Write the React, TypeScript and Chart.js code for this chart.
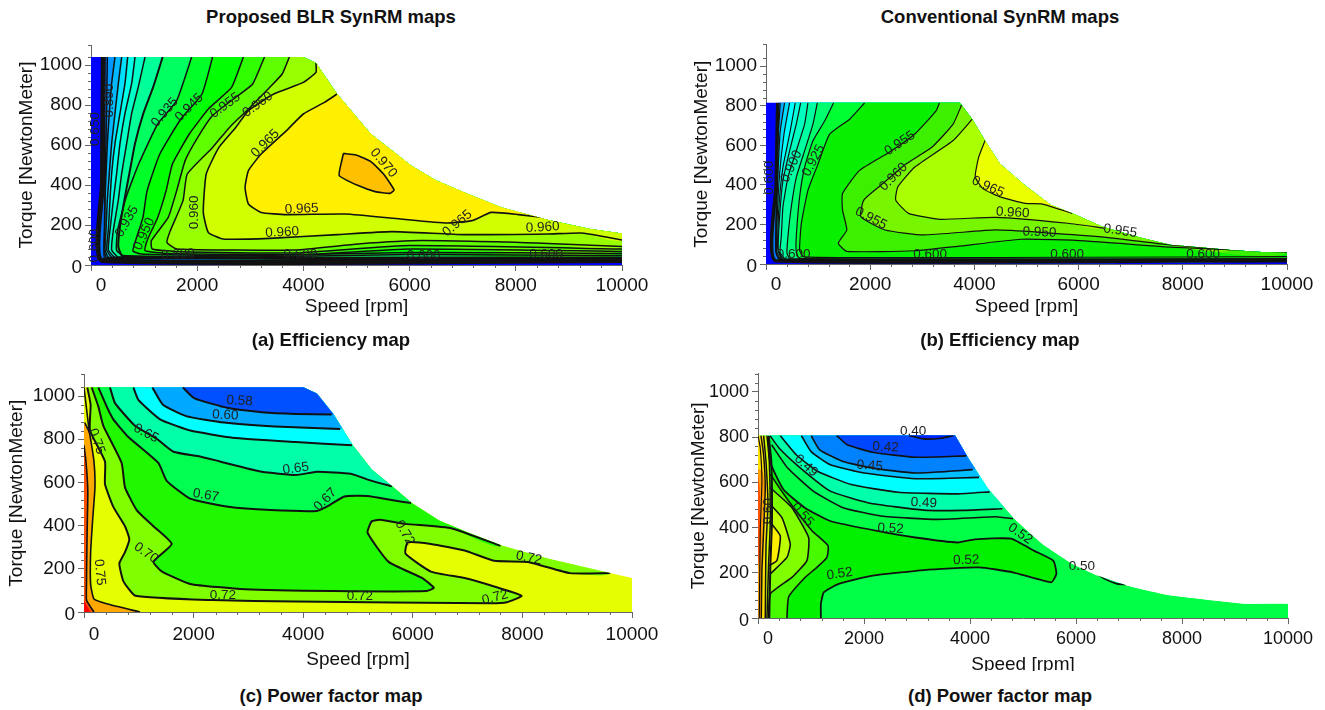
import React, { useEffect, useRef } from "react";
import Chart from "chart.js/auto";

type Pt = [number, number];
type Lab = [string, number, number, number];

const HEADINGS: [string, number, number][] = [
  ["Proposed BLR SynRM maps", 331, 17],
  ["Conventional SynRM maps", 1000, 17],
  ["(a) Efficiency map", 331, 340],
  ["(b) Efficiency map", 1000, 340],
  ["(c) Power factor map", 331, 696],
  ["(d) Power factor map", 1000, 696],
];
const X_TITLE = "Speed [rpm]";
const Y_TITLE = "Torque [NewtonMeter]";

/* ---------- (a) efficiency, proposed ---------- */
const A_ENV: Pt[] = [[0,0],[0,1040],[4000,1040],[4237,1010],[4635,855],[4953,755],[5271,655],[5668,572],[6026,497],[6503,422],[7100,355],[7735,288],[8610,225],[9405,180],[10000,158],[10000,0]];
const A_C1: Pt[] = [[232,1040],[215,400],[215,22],[10000,22]];
const A_C2: Pt[] = [[308,1040],[295,792],[270,458],[245,75],[262,34],[10000,26]];
const A_C3: Pt[] = [[452,1040],[389,908],[345,758],[308,608],[283,458],[264,325],[258,175],[245,75],[300,36],[10000,28]];
const A_C4: Pt[] = [[578,1040],[515,908],[452,758],[389,608],[345,458],[308,325],[283,175],[264,75],[340,37],[10000,29]];
const A_C5: Pt[] = [[691,1040],[640,908],[546,758],[452,608],[389,458],[358,325],[327,175],[295,75],[400,38],[10000,30]];
const A_C6: Pt[] = [[829,1040],[766,908],[640,758],[546,608],[483,458],[421,325],[358,175],[327,75],[460,38],[10000,32]];
const A_C7: Pt[] = [[1017,1040],[892,892],[766,758],[672,608],[578,458],[515,325],[421,175],[389,75],[520,39],[10000,34]];
const A_C8: Pt[] = [[1350,1040],[1174,892],[986,758],[829,608],[735,475],[640,342],[546,192],[515,92],[600,42],[3000,36],[6000,38],[10000,38]];
const A_C9: Pt[] = [[1896,1040],[1614,822],[1256,705],[898,505],[660,338],[500,172],[480,75],[600,48],[3000,40],[6000,52],[10000,47]];
const A_C10: Pt[] = [[2290,1040],[2090,855],[1693,730],[1296,555],[1057,372],[978,238],[819,105],[790,70],[938,55],[3000,46],[6000,63],[10000,58]];
const A_C11: Pt[] = [[2870,1040],[2647,888],[2210,780],[1852,655],[1534,505],[1415,372],[1256,238],[1057,122],[1018,72],[1455,58],[4000,52],[6000,80],[10000,68]];
const A_C12: Pt[] = [[3268,1040],[3045,905],[2767,847],[2290,747],[2011,638],[1773,522],[1614,372],[1455,238],[1137,122],[1153,80],[1693,66],[3840,60],[6000,97],[10000,80]];
const A_C13: Pt[] = [[3736,1040],[3601,955],[3363,888],[2965,780],[2608,688],[2290,588],[1813,455],[1733,322],[1495,172],[1431,113],[1614,80],[3840,75],[5032,105],[6225,122],[8610,108],[10000,92]];
const A_C14: Pt[] = [[4237,1010],[4237,963],[3999,913],[3442,855],[2965,772],[2727,688],[2409,588],[2170,455],[2115,263],[2210,163],[2488,130],[3363,133],[4635,152],[5668,167],[7020,152],[8610,155],[9246,160],[10000,125]];
const A_C15: Pt[] = [[4635,855],[4396,813],[3999,755],[3681,672],[3204,555],[2965,472],[2902,388],[2965,305],[3204,263],[3681,252],[4794,255],[5827,230],[6702,210],[7179,222],[7537,263],[8053,252],[8650,233]];
const A_C16: Pt[] = [[4754,558],[4993,550],[5271,517],[5509,455],[5708,375],[5629,358],[5350,367],[5032,397],[4675,447],[4715,513],[4754,558]];
const A_LABELS: Lab[] = [["0.965",3966,280,-3],["0.960",3601,163,-3],["0.965",6900,208,-40],["0.960",8506,188,-3],["0.965",3283,608,-45],["0.960",3141,802,-36],["0.955",2528,797,-36],["0.945",1852,788,-45],["0.935",1391,763,-50],["0.970",5509,510,50],["0.960",1948,263,-90],["0.935",676,218,-60],["0.950",1002,155,-65],["0.650",87,680,-90],["0.600",64,97,-90],["0.890",342,822,-90],["0.600",1638,52,-3],["0.600",3943,52,0],["0.600",6265,47,0],["0.600",8570,52,0]];

/* ---------- (b) efficiency, conventional ---------- */
const B_ENV: Pt[] = [[0,0],[0,815],[3722,815],[3959,732],[4204,624],[4490,507],[4979,395],[5469,298],[5878,256],[6449,189],[7102,139],[7755,97],[8980,69],[9592,60],[10000,60],[10000,0]];
const B_C1: Pt[] = [[225,815],[195,400],[190,17],[10000,17]];
const B_C2: Pt[] = [[274,815],[229,623],[190,204],[190,60],[260,22],[10000,16]];
const B_C3: Pt[] = [[357,815],[274,673],[229,455],[197,204],[195,60],[280,22],[10000,17]];
const B_C4: Pt[] = [[453,815],[345,656],[261,455],[210,204],[205,60],[300,23],[10000,18]];
const B_C5: Pt[] = [[562,815],[453,656],[325,489],[248,288],[225,80],[320,23],[10000,19]];
const B_C6: Pt[] = [[665,815],[581,707],[453,572],[325,422],[261,238],[235,70],[340,24],[10000,20]];
const B_C7: Pt[] = [[805,815],[741,707],[581,572],[421,438],[325,288],[293,137],[270,60],[380,24],[10000,21]];
const B_C8: Pt[] = [[985,815],[901,707],[741,572],[581,438],[485,288],[421,137],[402,53],[470,25],[10000,22]];
const B_C9: Pt[] = [[1298,815],[1126,723],[901,623],[741,489],[645,338],[581,137],[581,60],[640,28],[3000,26],[10000,27]];
const B_C10: Pt[] = [[1894,815],[1606,732],[1222,656],[998,505],[805,372],[678,204],[645,70],[720,36],[3000,32],[6000,34],[10000,37]];
const B_C11: Pt[] = [[3330,815],[3265,774],[2857,657],[2367,565],[1796,473],[1469,356],[1469,272],[1551,172],[1388,105],[1551,64],[2857,67],[3673,89],[4898,125],[6122,117],[7755,85],[10000,60]];
const B_C12: Pt[] = [[3755,804],[3592,707],[3184,590],[2694,507],[2204,398],[1877,323],[1820,239],[2286,172],[3020,147],[4408,172],[5306,159],[6530,135],[7755,97],[8898,72]];
const B_C13: Pt[] = [[3959,732],[3592,624],[2857,490],[2531,390],[2490,323],[2735,256],[3347,226],[4408,236],[5796,206],[6490,181]];
const B_C14: Pt[] = [[4204,624],[4082,540],[4016,440],[4163,381],[4490,339],[4979,306],[5306,303],[5878,256]];
const B_LABELS: Lab[] = [["0.955",2571,610,-34],["0.960",2449,440,-45],["0.965",4261,390,24],["0.960",4735,259,3],["0.955",2016,231,28],["0.950",5249,160,2],["0.955",6800,167,8],["0.600",530,47,0],["0.600",3151,47,0],["0.600",5780,47,0],["0.600",8392,47,0],["0.925",914,523,-62],["0.900",490,493,-65],["0.600",65,436,-90]];

/* ---------- (c) power factor, proposed ---------- */
const C_ENV: Pt[] = [[0,0],[0,1040],[4004,1040],[4250,1012],[4558,914],[4905,772],[5251,660],[5636,580],[5983,505],[6483,424],[7022,367],[7638,307],[8485,247],[9563,183],[10000,157],[10000,0]];
const C_T1: Pt[] = [[1802,1040],[2017,989],[2633,944],[3249,925],[3865,917],[4520,914]];
const C_T2: Pt[] = [[1247,1040],[1440,960],[1863,907],[2556,877],[3480,859],[4674,847]];
const C_T3: Pt[] = [[900,1040],[992,982],[1388,892],[1940,840],[2710,807],[3865,787],[4890,772]];
const C_T4: Pt[] = [[474,1040],[566,967],[931,862],[1327,802],[1632,742],[2118,720],[2479,697],[3249,649],[3865,634],[4250,649],[4866,640],[5251,607],[5621,582]];
const C_T5: Pt[] = [[261,1040],[413,952],[535,892],[809,810],[1357,690],[1509,607],[1935,525],[2633,487],[3403,472],[4250,468],[4481,495],[4751,535],[5174,537],[5636,517],[5967,505]];
const C_T6: Pt[] = [[140,1040],[261,952],[353,862],[687,690],[748,577],[961,472],[1266,397],[1600,315],[1266,233],[1418,188],[1935,130],[2941,105],[4558,97],[6252,97],[6383,112],[6175,157],[5559,232],[5174,367],[5251,420],[5405,427],[5867,408],[6714,387],[7600,307]];
const C_T7: Pt[] = [[60,1040],[121,960],[109,840],[383,697],[383,592],[535,487],[748,397],[827,337],[748,277],[645,225],[718,143],[939,75],[2325,55],[3865,49],[7407,40],[7715,45],[7985,75],[7561,112],[6945,157],[6329,187],[5867,270],[5906,322],[6329,315],[6945,285],[7484,237],[8100,232],[8870,180],[9602,180]];
const C_ORANGE: Pt[] = [[12,877],[97,832],[182,697],[200,577],[158,427],[121,277],[121,128],[182,60],[413,38],[1022,0]];
const C_L8: Pt[] = [[0,1040],[48,937],[97,832]];
const C_RED: Pt[] = [[0,772],[36,697],[70,562],[60,412],[50,248],[45,128],[48,53],[182,0]];
const C_CORNER: Pt[] = [[0,53],[109,0]];
const C_LABELS: Lab[] = [["0.58",2841,977,3],["0.60",2580,911,3],["0.65",1132,827,28],["0.65",3865,664,-8],["0.67",2225,540,10],["0.67",4404,520,-45],["0.70",1132,273,35],["0.72",2533,79,0],["0.72",5036,75,0],["0.72",7500,67,-15],["0.72",5852,367,60],["0.72",8116,250,12],["0.75",285,184,85],["0.75",231,790,70]];

/* ---------- (d) power factor, conventional ---------- */
const D_ENV: Pt[] = [[0,0],[0,807],[3720,807],[3970,707],[4331,575],[4812,444],[5373,326],[5935,239],[6416,187],[6977,143],[7739,102],[9183,63],[10000,63],[10000,0]];
const D_A1: Pt[] = [[2847,807],[3128,792],[3449,795],[3689,807]];
const D_A2: Pt[] = [[1484,807],[1684,766],[2165,733],[2967,711],[3930,717]];
const D_A3: Pt[] = [[1002,807],[1163,744],[1604,692],[2165,663],[2967,641],[4050,656]];
const D_A4: Pt[] = [[818,807],[1002,736],[1363,678],[2005,641],[2967,616],[4170,622]];
const D_A5: Pt[] = [[417,807],[722,722],[1123,649],[1764,590],[2647,556],[3769,549],[4371,558]];
const D_A6: Pt[] = [[225,807],[401,751],[802,663],[1363,561],[2085,509],[3128,477],[3850,476],[4612,483]];
const D_A7: Pt[] = [[257,766],[561,663],[1043,561],[1604,488],[2326,451],[3368,436],[4491,448],[4812,439]];
const D_U: Pt[] = [[1187,0],[1187,63],[1243,114],[1524,151],[2165,187],[3128,212],[4170,224],[4812,202],[5534,158],[5630,195],[5574,253],[5213,297],[4772,351],[4090,348],[3769,334],[2967,356],[2246,385],[1363,429],[882,488],[481,568],[225,692],[200,800]];
const D_B1: Pt[] = [[232,635],[578,517],[1018,386],[1320,320],[1301,268],[1112,224],[892,180],[578,93],[546,0]];
const D_B2: Pt[] = [[232,576],[640,488],[955,356],[923,254],[640,180],[232,107],[200,0]];
const D_B3: Pt[] = [[232,503],[452,444],[609,327],[546,268],[232,195]];
const D_Y: Pt[] = [[213,429],[420,363],[357,254],[213,232]];
const D_N1: Pt[] = [[0,807],[43,752],[74,605],[43,386],[24,0]];
const D_N2: Pt[] = [[56,807],[106,722],[137,576],[106,386],[74,210],[62,0]];
const D_N3: Pt[] = [[106,807],[150,693],[188,503],[150,312],[137,0]];
const D_N4: Pt[] = [[169,807],[213,693],[232,429],[200,239],[169,0]];
const D_N5: Pt[] = [[200,807],[251,693],[263,429],[232,224],[213,0]];
const D_ORANGE: Pt[] = [[0,660],[90,650],[137,576],[106,386],[74,210],[62,0]];
const D_RED: Pt[] = [[0,640],[35,560],[50,420],[35,280],[0,230]];
const D_SPOT: Pt[] = [[6392,195],[6536,173],[6777,151],[6953,148]];
const D_LABELS: Lab[] = [["0.40",2927,824,0],["0.42",2406,755,3],["0.45",2109,673,5],["0.49",906,673,42],["0.49",3128,509,3],["0.52",2502,395,3],["0.55",842,458,50],["0.52",4948,373,35],["0.52",3930,256,-2],["0.52",1540,195,-8],["0.50",6111,227,0],["0.60",200,473,-90]];

type Layer = { pts: Pt[]; color?: string; close?: "top" | "left" | "none"; lw?: number };
type Cfg = {
  box: [number, number, number, number];
  clipBottom: number;
  area: [number, number, number, number];
  yMax: number;
  titlePad: [number, number];
  tickSize: number;
  tickPad: number;
  env: Pt[];
  layers: Layer[];
  labels: Lab[];
};

const CHARTS: Cfg[] = [
  {
    box: [0, 30, 660, 300], clipBottom: 0, area: [91, 622, 45, 265], yMax: 1100, titlePad: [11.5, 15.5], tickSize: 19, tickPad: 3, env: A_ENV, labels: A_LABELS,
    layers: [
      { pts: A_ENV, color: "#0000ff", close: "none" },
      { pts: A_C1, color: "#0070ff", close: "top", lw: 5 },
      { pts: A_C2, color: "#0098ff", close: "top", lw: 1.5 },
      { pts: A_C3, color: "#00b8ff", close: "top", lw: 1.5 },
      { pts: A_C4, color: "#00e0ff", close: "top", lw: 1.5 },
      { pts: A_C5, color: "#00ffe8", close: "top", lw: 1.5 },
      { pts: A_C6, color: "#00ffc8", close: "top", lw: 1.5 },
      { pts: A_C7, color: "#00ff98", close: "top", lw: 1.5 },
      { pts: A_C8, color: "#00ff60", close: "top", lw: 2 },
      { pts: A_C9, color: "#00ff28", close: "top", lw: 1.5 },
      { pts: A_C10, color: "#00ff00", close: "top", lw: 1.5 },
      { pts: A_C11, color: "#30ff00", close: "top", lw: 1.5 },
      { pts: A_C12, color: "#60ff00", close: "top", lw: 1.5 },
      { pts: A_C13, color: "#98ff00", close: "top", lw: 1.5 },
      { pts: A_C14, color: "#d0ff00", close: "top", lw: 1.6 },
      { pts: A_C15, color: "#fff000", close: "top", lw: 1.6 },
      { pts: A_C16, color: "#ffc000", close: "none", lw: 1.6 },
    ],
  },
  {
    box: [660, 30, 665, 300], clipBottom: 0, area: [766, 1287, 43, 264], yMax: 1110, titlePad: [11.5, 30], tickSize: 19, tickPad: 3, env: B_ENV, labels: B_LABELS,
    layers: [
      { pts: B_ENV, color: "#0000ff", close: "none" },
      { pts: B_C1, color: "#0078ff", close: "top", lw: 3.5 },
      { pts: B_C2, color: "#00aaff", close: "top", lw: 1.2 },
      { pts: B_C3, color: "#00dcff", close: "top", lw: 1.2 },
      { pts: B_C4, color: "#00ffff", close: "top", lw: 1.2 },
      { pts: B_C5, color: "#00ffdc", close: "top", lw: 1.2 },
      { pts: B_C6, color: "#00ffbe", close: "top", lw: 1.2 },
      { pts: B_C7, color: "#00ffa0", close: "top", lw: 1.2 },
      { pts: B_C8, color: "#00ff6e", close: "top", lw: 1.2 },
      { pts: B_C9, color: "#00ff32", close: "top", lw: 1.2 },
      { pts: B_C10, color: "#08f000", close: "top", lw: 1.2 },
      { pts: B_C11, color: "#3cf000", close: "top", lw: 1.2 },
      { pts: B_C12, color: "#78f500", close: "top", lw: 1.2 },
      { pts: B_C13, color: "#aaff00", close: "top", lw: 1.2 },
      { pts: B_C14, color: "#ebff00", close: "top", lw: 1.2 },
    ],
  },
  {
    box: [0, 360, 700, 320], clipBottom: 0, area: [84, 632, 367, 612], yMax: 1100, titlePad: [8.6, 5.5], tickSize: 19, tickPad: 5, env: C_ENV, labels: C_LABELS,
    layers: [
      { pts: C_ENV, color: "#e6ff00", close: "none" },
      { pts: C_T7, color: "#80ff00", close: "top", lw: 2 },
      { pts: C_T6, color: "#20f800", close: "top", lw: 2 },
      { pts: C_T5, color: "#00ff50", close: "top", lw: 2 },
      { pts: C_T4, color: "#00ffa8", close: "top", lw: 2 },
      { pts: C_T3, color: "#00ffff", close: "top", lw: 2 },
      { pts: C_T2, color: "#00a8ff", close: "top", lw: 2 },
      { pts: C_T1, color: "#0050ff", close: "top", lw: 2 },
      { pts: C_ORANGE, color: "#ffa800", close: "left", lw: 1.6 },
      { pts: C_L8, lw: 1.6 },
      { pts: C_RED, color: "#ff5000", close: "left", lw: 1.6 },
      { pts: C_CORNER, color: "#ff0000", close: "left" },
    ],
  },
  {
    box: [660, 360, 665, 330], clipBottom: 19, area: [758, 1288, 372, 618], yMax: 1080, titlePad: [14, 27], tickSize: 18, tickPad: 4, env: D_ENV, labels: D_LABELS,
    layers: [
      { pts: D_ENV, color: "#00ff46", close: "none" },
      { pts: D_SPOT, color: "#00ff78", close: "top", lw: 1.6 },
      { pts: D_U, color: "#00f000", close: "left", lw: 1.8 },
      { pts: D_B1, color: "#48fa00", close: "left", lw: 1.6 },
      { pts: D_B2, color: "#80ff00", close: "left", lw: 1.6 },
      { pts: D_B3, color: "#beff00", close: "left", lw: 1.6 },
      { pts: D_Y, color: "#ffee00", close: "left", lw: 1.6 },
      { pts: D_N5, lw: 2 },
      { pts: D_N4, color: "#d0ff00", close: "left", lw: 1.5 },
      { pts: D_N3, color: "#ffe000", close: "left", lw: 1.5 },
      { pts: D_ORANGE, color: "#ffa000", close: "left" },
      { pts: D_N2, lw: 1.5 },
      { pts: D_RED, color: "#ff5000", close: "left" },
      { pts: D_N1, lw: 1.2 },
      { pts: D_A7, color: "#00ff64", close: "top", lw: 1.6 },
      { pts: D_A6, color: "#00ffaa", close: "top", lw: 1.6 },
      { pts: D_A5, color: "#00ffff", close: "top", lw: 1.6 },
      { pts: D_A4, color: "#00beff", close: "top", lw: 1.6 },
      { pts: D_A3, color: "#0082ff", close: "top", lw: 1.6 },
      { pts: D_A2, color: "#0046ff", close: "top", lw: 1.6 },
      { pts: D_A1, color: "#0020ff", close: "top", lw: 1.6 },
    ],
  },
];

const FONT = "'Liberation Sans', Arial, sans-serif";
const AXIS = "#666";

function polygon(l: Layer, xMax: number, yMax: number): Pt[] {
  const first = l.pts[0];
  const last = l.pts[l.pts.length - 1];
  if (l.close === "top") return [...l.pts, [xMax, yMax], [first[0], yMax]];
  if (l.close === "left") return [...l.pts, [0, last[1]], [0, first[1]]];
  return l.pts;
}
const xy = (p: Pt[]) => p.map(([x, y]) => ({ x, y }));

function makeChart(canvas: HTMLCanvasElement, cfg: Cfg) {
  const [bx, by, bw, bh] = cfg.box;
  const [l, r, t, b] = cfg.area;
  const fills = cfg.layers.filter((y) => y.color).map((y) => ({
    data: xy(polygon(y, 10000, cfg.yMax)), showLine: true, fill: "shape", backgroundColor: y.color,
    borderWidth: 0, borderColor: "transparent", pointRadius: 0, tension: 0.15,
  }));
  const lines = cfg.layers.filter((y) => y.lw).map((y) => ({
    data: xy(y.pts), showLine: true, fill: false, borderWidth: y.lw, borderColor: "#111",
    pointRadius: 0, tension: 0.15,
  }));
  const all: any[] = [...fills, ...lines].map((d, i) => ({ ...d, order: -i }));
  const adjusted = new WeakSet();
  const plugin = {
    id: "contourMap",
    beforeDraw(c: any) {
      const area = c.chartArea;
      c.scales.x.getLabelItems(area).forEach((it: any) => {
        if (it.label === "0" && !adjusted.has(it)) { it.options.translation[0] += 10; adjusted.add(it); }
      });
      c.scales.y.getLabelItems(area).forEach((it: any) => {
        if (it.label === "0" && !adjusted.has(it)) { it.options.translation[1] += 3; adjusted.add(it); }
      });
    },
    afterDraw(c: any) {
      const g = c.ctx;
      g.save();
      g.strokeStyle = AXIS;
      g.lineWidth = 1;
      c.scales.x.ticks.forEach((k: any) => {
        if (k.value % 2000 !== 0) {
          const p = Math.round(c.scales.x.getPixelForValue(k.value)) + 0.5;
          g.beginPath(); g.moveTo(p, c.chartArea.bottom); g.lineTo(p, c.chartArea.bottom + 3); g.stroke();
        }
      });
      c.scales.y.ticks.forEach((k: any) => {
        if (k.value % 200 !== 0) {
          const p = Math.round(c.scales.y.getPixelForValue(k.value)) + 0.5;
          g.beginPath(); g.moveTo(c.chartArea.left, p); g.lineTo(c.chartArea.left - 3, p); g.stroke();
        }
      });
      g.restore();
    },
    beforeDatasetsDraw(c: any) {
      const g = c.ctx;
      g.save();
      g.beginPath();
      cfg.env.forEach(([x, y], i) => {
        const px = c.scales.x.getPixelForValue(x);
        const py = c.scales.y.getPixelForValue(y);
        if (i) g.lineTo(px, py); else g.moveTo(px, py);
      });
      g.closePath();
      g.clip();
    },
    afterDatasetsDraw(c: any) {
      const g = c.ctx;
      g.restore();
      g.save();
      g.font = `13.5px ${FONT}`;
      g.fillStyle = "#222";
      g.textAlign = "center";
      g.textBaseline = "middle";
      cfg.labels.forEach(([s, x, y, a]) => {
        g.save();
        g.translate(c.scales.x.getPixelForValue(x), c.scales.y.getPixelForValue(y));
        g.rotate((a * Math.PI) / 180);
        g.fillText(s, 0, 0);
        g.restore();
      });
      g.restore();
    },
  };
  return new Chart(canvas, {
    type: "scatter",
    data: { datasets: all },
    plugins: [plugin],
    options: {
      animation: false,
      responsive: false,
      events: [],
      layout: { padding: { left: 0, top: t - by, right: bx + bw - r, bottom: 0 } },
      plugins: { legend: { display: false }, tooltip: { enabled: false } },
      scales: {
        x: {
          type: "linear", min: 0, max: 10000,
          afterFit: (s: any) => { s.height = by + bh - b; },
          grid: {
            drawOnChartArea: false, tickLength: 6,
            tickColor: (c: any) => (c.tick && c.tick.value % 2000 === 0 ? AXIS : "transparent"),
          },
          border: { color: AXIS },
          ticks: {
            stepSize: 400, autoSkip: false, maxRotation: 0, padding: cfg.tickPad, color: "#111",
            font: { family: FONT, size: cfg.tickSize },
            callback: (v: any) => (v % 2000 === 0 ? String(v) : ""),
          },
          title: { display: true, text: X_TITLE, color: "#111", font: { family: FONT, size: 19 }, padding: { top: 0, bottom: cfg.titlePad[0] } },
        },
        y: {
          type: "linear", min: 0, max: cfg.yMax,
          afterFit: (s: any) => { s.width = l - bx; },
          grid: {
            drawOnChartArea: false, tickLength: 6,
            tickColor: (c: any) => (c.tick && c.tick.value % 200 === 0 ? AXIS : "transparent"),
          },
          border: { color: AXIS },
          ticks: {
            stepSize: 40, autoSkip: false, padding: 3, color: "#111",
            font: { family: FONT, size: cfg.tickSize },
            callback: (v: any) => (v % 200 === 0 ? String(v) : ""),
          },
          title: { display: true, text: Y_TITLE, color: "#111", font: { family: FONT, size: 19 }, padding: { top: cfg.titlePad[1], bottom: 0 } },
        },
      },
    } as any,
  });
}

export default function App() {
  const refs = useRef<(HTMLCanvasElement | null)[]>([]);
  useEffect(() => {
    const made = CHARTS.map((c, i) => makeChart(refs.current[i] as HTMLCanvasElement, c));
    return () => made.forEach((m) => m.destroy());
  }, []);
  return (
    <div style={{ position: "absolute", left: 0, top: 0, width: 1325, height: 710, overflow: "hidden", background: "#fff" }}>
      {CHARTS.map((c, i) => (
        <div
          key={i}
          style={{
            position: "absolute", left: c.box[0], top: c.box[1], width: c.box[2], height: c.box[3] - c.clipBottom,
            overflow: "hidden",
          }}
        >
          <canvas
            ref={(el) => { refs.current[i] = el; }}
            width={c.box[2]}
            height={c.box[3]}
            style={{ display: "block", width: c.box[2], height: c.box[3], filter: "blur(0.45px)" }}
          />
        </div>
      ))}
      {HEADINGS.map(([s, x, y]) => (
        <div
          key={s + x + y}
          style={{
            position: "absolute", left: x, top: y, transform: "translate(-50%,-50%)", whiteSpace: "nowrap",
            fontFamily: FONT, fontWeight: "bold", fontSize: 18.5, color: "#111",
          }}
        >
          {s}
        </div>
      ))}
    </div>
  );
}
